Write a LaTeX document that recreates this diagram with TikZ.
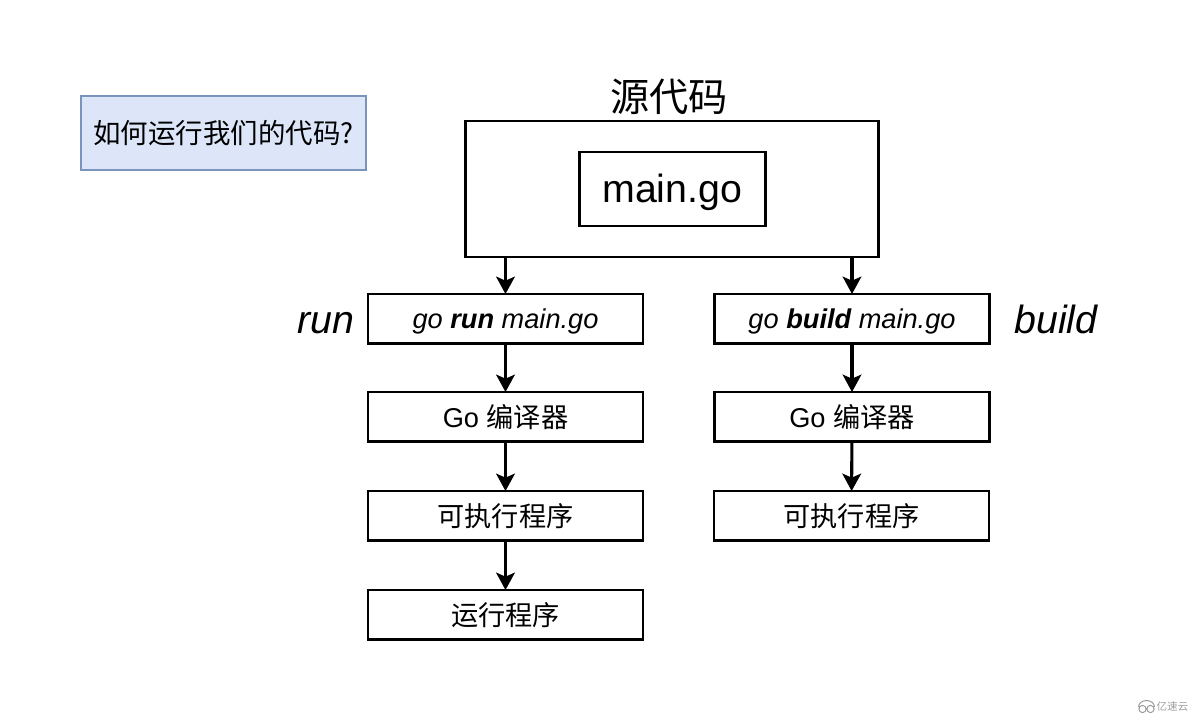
\documentclass[tikz,border=0pt]{standalone}
\usepackage{fontspec}
\setmainfont{Liberation Sans}
\newfontfamily\cjk{Noto Sans CJK SC}
\usetikzlibrary{arrows.meta}
\definecolor{qline}{RGB}{122,148,190}
\definecolor{qfill}{RGB}{220,230,248}
\definecolor{wmtext}{RGB}{160,160,160}
\definecolor{wmline}{RGB}{150,150,150}
\newcommand{\drop}[2]{\raisebox{-#1}[0pt][0pt]{#2}}
\tikzset{
  x=0.75pt,y=-0.75pt,
  box/.style={draw=black,line width=1.9pt,outer sep=0pt,fill=white,inner sep=0pt,anchor=north west,align=center},
  flow/.style={box,minimum width=206.25pt,minimum height=37pt,font=\fontsize{20.4}{24}\selectfont},
  side/.style={inner sep=0pt,anchor=base,font=\fontsize{29.5}{34}\selectfont\itshape},
  link/.style={draw=black,line width=2.3pt,-{Stealth[length=13pt,width=14pt,inset=3pt]}},
}
\begin{document}
\begin{tikzpicture}
\useasboundingbox (0,0) rectangle (1200,715);
\fill[white] (0,0) rectangle (1200,715);
\node[draw=qline,fill=qfill,line width=1.8pt,outer sep=0pt,inner sep=0pt,anchor=north west,minimum width=213.75pt,minimum height=55.5pt,font=\fontsize{20.6}{24}\selectfont] (q) at (81,96) {\cjk 如何运行我们的代码?};
\node[box,minimum width=309.75pt,minimum height=102pt] (src) at (465.5,121) {};
\node[inner sep=0pt,font=\fontsize{29.4}{34}\selectfont] (title) at (669,97) {\cjk 源代码};
\node[box,minimum width=139.5pt,minimum height=55.5pt,font=\fontsize{29.5}{34}\selectfont] (main) at (579.3,152) {\drop{10.2pt}{main.go}};
\node[flow] (run) at (368,294) {\drop{7.3pt}{\itshape go \bfseries run \mdseries main.go}};
\node[flow] (rc) at (368,392) {Go {\cjk 编译器}};
\node[flow] (re) at (368,491) {\cjk 可执行程序};
\node[flow] (rr) at (368,590) {\cjk 运行程序};
\node[flow] (build) at (714.5,294) {\drop{7.3pt}{\itshape go \bfseries build \mdseries main.go}};
\node[flow] (bc) at (714.5,392) {Go {\cjk 编译器}};
\node[flow] (be) at (714,491) {\cjk 可执行程序};
\node[side] (lrun) at (325.5,333) {run};
\node[side] (lbuild) at (1056,333) {build};
\draw[link] (run |- src.south) -- (run);
\draw[link] (build |- src.south) -- (build);
\draw[link] (run) -- (rc);
\draw[link] (rc) -- (re);
\draw[link] (re) -- (rr);
\draw[link] (build) -- (bc);
\draw[link] (bc) -- (be);
\node[inner sep=0pt,text=wmtext,font=\fontsize{7.9}{10}\selectfont] (wm) at (1172.5,707) {\cjk 亿速云};
\draw[wmline,line width=0.7pt] (1142.5,709) circle[radius=3.6] (1150.5,709) circle[radius=3.6] (1138.5,707) arc[start angle=180,end angle=360,x radius=8,y radius=6.5];
\end{tikzpicture}
\end{document}
